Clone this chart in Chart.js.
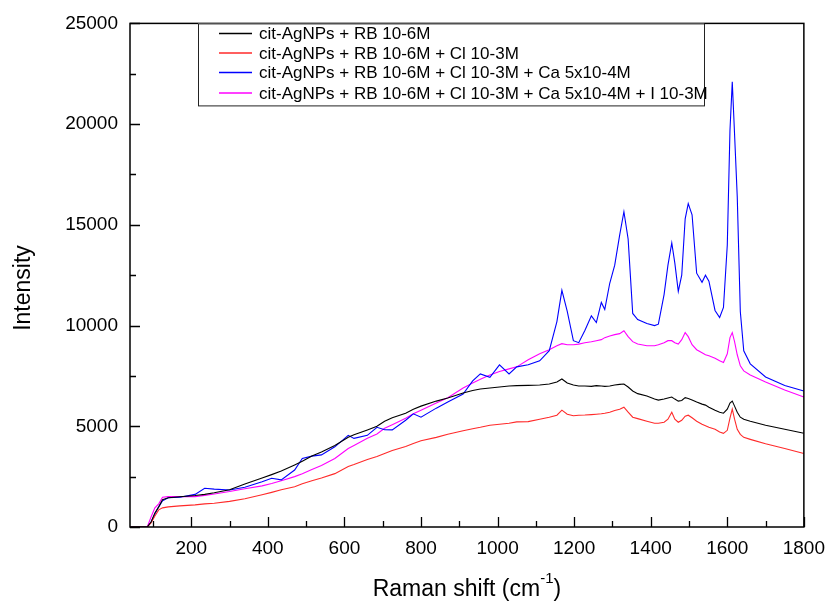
<!DOCTYPE html>
<html>
<head>
<meta charset="utf-8">
<title>Raman spectra</title>
<script src="https://cdn.jsdelivr.net/npm/chart.js@4.4.0/dist/chart.umd.min.js"></script>
<style>
  body { margin: 0; background: #fff; }
  #wrap { width: 835px; height: 603px; position: relative; }
</style>
</head>
<body>
<div id="wrap"><canvas id="ramanChart"></canvas></div>
<script>
// Raman shift (cm-1), shared by all four spectra
var shifts = [40, 85, 95, 105, 115, 125, 140, 170, 210, 235, 260, 300, 340, 385, 410, 435, 470, 490, 515, 540,
  575, 610, 625, 660, 685, 705, 725, 760, 780, 800, 840, 870, 910, 935, 955, 980, 1005, 1030, 1050, 1080,
  1110, 1135, 1155, 1168, 1182, 1198, 1212, 1228, 1245, 1258, 1271, 1280, 1293, 1306, 1319, 1330, 1341, 1353, 1366, 1390,
  1410, 1420, 1435, 1445, 1455, 1463, 1472, 1481, 1490, 1498, 1508, 1520, 1534, 1543, 1552, 1568, 1580, 1590, 1600, 1607,
  1613, 1619, 1626, 1634, 1643, 1660, 1700, 1750, 1800];

var seriesNames = [
  'cit-AgNPs + RB 10-6M',
  'cit-AgNPs + RB 10-6M + Cl 10-3M',
  'cit-AgNPs + RB 10-6M + Cl 10-3M + Ca 5x10-4M',
  'cit-AgNPs + RB 10-6M + Cl 10-3M + Ca 5x10-4M + I 10-3M'
];

var rbOnly = [0, 0, 250, 700, 1000, 1350, 1450, 1500, 1560, 1620, 1700, 1850, 2130, 2430, 2600, 2780, 3080, 3260, 3520, 3720,
  4050, 4450, 4580, 4820, 5000, 5250, 5420, 5650, 5850, 6000, 6250, 6400, 6650, 6780, 6850, 6900, 6950, 7000, 7020, 7030,
  7050, 7100, 7200, 7350, 7150, 7050, 7000, 7000, 6980, 7020, 7000, 6980, 7000, 7050, 7080, 7100, 6950, 6750, 6620, 6500,
  6350, 6300, 6350, 6400, 6450, 6350, 6250, 6280, 6420, 6380, 6300, 6200, 6100, 6050, 5950, 5800, 5700, 5650, 5850, 6150,
  6250, 6000, 5700, 5450, 5350, 5250, 5050, 4850, 4650];

var withCl = [0, 0, 200, 550, 850, 950, 1000, 1050, 1100, 1150, 1180, 1270, 1400, 1600, 1720, 1850, 2000, 2150, 2300, 2430,
  2650, 3000, 3100, 3350, 3500, 3650, 3800, 4000, 4150, 4280, 4450, 4600, 4780, 4880, 4950, 5050, 5100, 5150, 5220, 5230,
  5350, 5450, 5550, 5800, 5600, 5520, 5550, 5560, 5580, 5600, 5620, 5650, 5700, 5780, 5850, 5950, 5700, 5450, 5380, 5250,
  5150, 5150, 5200, 5350, 5700, 5350, 5200, 5300, 5500, 5550, 5420, 5250, 5100, 5030, 4950, 4850, 4720, 4650, 4800, 5400,
  5850, 5350, 4850, 4600, 4450, 4350, 4130, 3900, 3650];

var withCa = [0, 0, 250, 650, 1000, 1300, 1450, 1480, 1620, 1920, 1880, 1840, 1970, 2250, 2420, 2340, 2830, 3400, 3520, 3580,
  3980, 4550, 4400, 4550, 4950, 4830, 4820, 5300, 5620, 5450, 5900, 6200, 6600, 7250, 7600, 7430, 8050, 7600, 7950, 8050,
  8250, 8750, 10200, 11750, 10700, 9250, 9150, 9750, 10480, 10150, 11150, 10800, 12100, 13000, 14500, 15650, 14300, 10600, 10300, 10100,
  10000, 10070, 11550, 13000, 14100, 13100, 11700, 12500, 15300, 16050, 15500, 12600, 12150, 12500, 12200, 10750, 10400, 10900, 14000, 19700,
  22100, 19500, 16400, 10700, 8750, 8100, 7450, 7020, 6750];

var withI = [0, 0, 500, 950, 1150, 1480, 1510, 1510, 1510, 1570, 1640, 1760, 1900, 2040, 2160, 2300, 2500, 2640, 2860, 3050,
  3400, 3900, 4050, 4400, 4620, 4900, 5080, 5400, 5620, 5800, 6150, 6420, 6900, 7150, 7330, 7550, 7720, 7850, 7950, 8300,
  8600, 8800, 9000, 9100, 9050, 9050, 9080, 9150, 9200, 9250, 9300, 9400, 9480, 9550, 9600, 9740, 9450, 9200, 9080, 9000,
  9000, 9050, 9150, 9250, 9250, 9150, 9080, 9300, 9650, 9450, 9050, 8800, 8650, 8550, 8500, 8380, 8250, 8170, 8600, 9400,
  9650, 9200, 8550, 8000, 7750, 7550, 7200, 6800, 6450];

var lineColors = ['#000000', '#ff2a2a', '#0000ff', '#ff00ff'];

var xTicks = [100, 200, 300, 400, 500, 600, 700, 800, 900, 1000, 1100, 1200, 1300, 1400, 1500, 1600, 1700, 1800];
var yTicks = [0, 2500, 5000, 7500, 10000, 12500, 15000, 17500, 20000, 22500, 25000];

var FONT = "'Liberation Sans', Arial, sans-serif";

function toPoints(values) {
  return shifts.map(function (s, i) { return { x: s, y: values[i] }; });
}

var allSeries = [rbOnly, withCl, withCa, withI];
var datasets = allSeries.map(function (vals, i) {
  return {
    label: seriesNames[i],
    data: toPoints(vals),
    borderColor: lineColors[i],
    borderWidth: 1.1,
    pointRadius: 0,
    tension: 0,
    fill: false
  };
});

// frame, inward tick marks, legend box and axis titles
var framePlugin = {
  id: 'frame',
  afterDraw: function (chart) {
    var c = chart.ctx;
    var a = chart.chartArea;
    var xs = chart.scales.x, ys = chart.scales.y;
    c.save();
    c.strokeStyle = '#000';
    c.lineWidth = 1.5;
    c.strokeRect(a.left, a.top, a.right - a.left, a.bottom - a.top);

    c.lineWidth = 1.3;
    c.beginPath();
    xTicks.forEach(function (v) {
      var px = Math.round(xs.getPixelForValue(v)) + 0.5;
      var len = v % 200 === 0 ? 10 : 6;
      c.moveTo(px, a.bottom);
      c.lineTo(px, a.bottom - len);
    });
    yTicks.forEach(function (v) {
      var py = Math.round(ys.getPixelForValue(v)) + 0.5;
      var len = v % 5000 === 0 ? 10 : 6;
      c.moveTo(a.left, py);
      c.lineTo(a.left + len, py);
    });
    c.stroke();

    // legend
    var lx = 198, ly = a.top, lw = 506, lh = 82;
    c.fillStyle = '#fff';
    c.fillRect(lx, ly, lw, lh);
    c.lineWidth = 1;
    c.strokeStyle = '#222';
    c.strokeRect(lx + 0.5, ly + 0.5, lw, lh);
    var rows = [33.5, 53, 72.5, 93];
    c.font = '17px ' + FONT;
    c.textBaseline = 'middle';
    c.textAlign = 'left';
    for (var i = 0; i < seriesNames.length; i++) {
      c.beginPath();
      c.lineWidth = 1.4;
      c.strokeStyle = lineColors[i];
      c.moveTo(219, rows[i]);
      c.lineTo(252, rows[i]);
      c.stroke();
      c.fillStyle = '#000';
      c.fillText(seriesNames[i], 259, rows[i] + 1);
    }

    // y title
    c.fillStyle = '#000';
    c.font = '23px ' + FONT;
    c.save();
    c.translate(30, 288);
    c.rotate(-Math.PI / 2);
    c.textAlign = 'center';
    c.textBaseline = 'alphabetic';
    c.fillText('Intensity', 0, 0);
    c.restore();

    // x title with superscript
    var main = 'Raman shift (cm';
    var sup = '-1';
    var tail = ')';
    c.textBaseline = 'alphabetic';
    c.textAlign = 'left';
    c.font = '23px ' + FONT;
    var w1 = c.measureText(main).width;
    var w3 = c.measureText(tail).width;
    c.font = '15px ' + FONT;
    var w2 = c.measureText(sup).width;
    var start = (a.left + a.right) / 2 - (w1 + w2 + w3) / 2;
    c.font = '23px ' + FONT;
    c.fillText(main, start, 596);
    c.font = '15px ' + FONT;
    c.fillText(sup, start + w1, 583);
    c.font = '23px ' + FONT;
    c.fillText(tail, start + w1 + w2, 596);
    c.restore();
  }
};

var canvasCtx = document.getElementById('ramanChart').getContext('2d');
var ramanChart = new Chart(canvasCtx, {
  type: 'line',
  data: { datasets: datasets },
  options: {
    responsive: true,
    maintainAspectRatio: false,
    animation: false,
    layout: { padding: { top: 20, right: 23, left: 0, bottom: 0 } },
    plugins: {
      legend: { display: false },
      tooltip: { enabled: false }
    },
    scales: {
      x: {
        type: 'linear',
        min: 40,
        max: 1800,
        afterFit: function (scale) { scale.height = 76; },
        afterBuildTicks: function (scale) {
          scale.ticks = xTicks.map(function (v) { return { value: v }; });
        },
        grid: { display: false, drawTicks: false },
        border: { display: false },
        ticks: {
          autoSkip: false,
          maxRotation: 0,
          padding: 10,
          color: '#000',
          font: { family: FONT, size: 19 },
          callback: function (v) { return v % 200 === 0 ? String(v) : ''; }
        }
      },
      y: {
        min: 0,
        max: 25000,
        afterFit: function (scale) { scale.width = 130; },
        afterBuildTicks: function (scale) {
          scale.ticks = yTicks.map(function (v) { return { value: v }; });
        },
        grid: { display: false, drawTicks: false },
        border: { display: false },
        ticks: {
          autoSkip: false,
          padding: 12,
          color: '#000',
          font: { family: FONT, size: 19 },
          callback: function (v) { return v % 5000 === 0 ? String(v) : ''; }
        }
      }
    }
  },
  plugins: [framePlugin]
});
</script>
</body>
</html>
